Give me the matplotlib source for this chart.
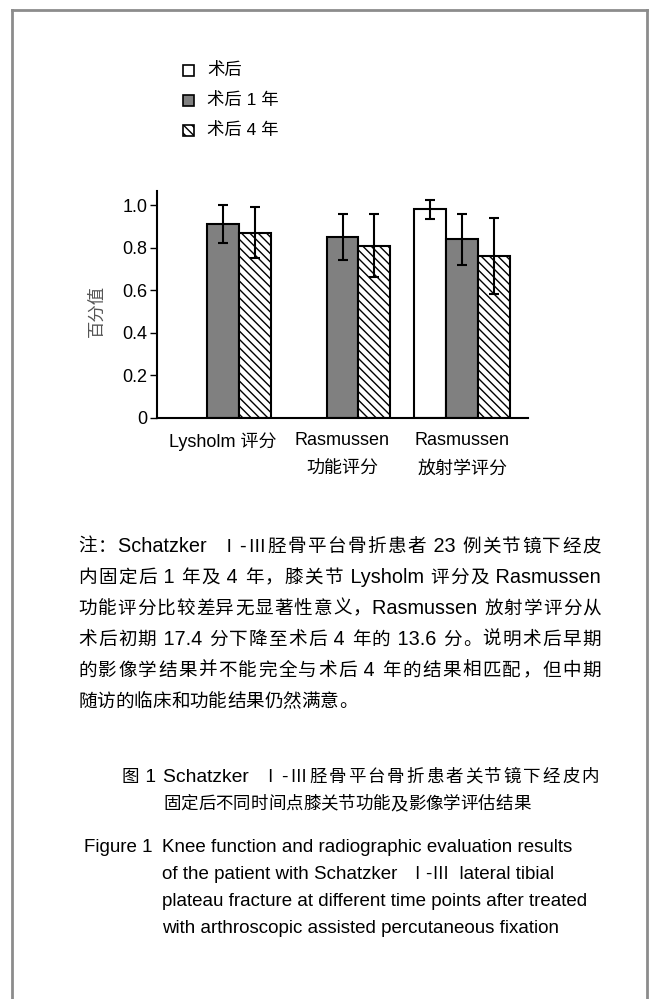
import re
import numpy as np
import matplotlib
matplotlib.use('Agg')
import matplotlib.pyplot as plt
from matplotlib.patches import Rectangle
from matplotlib.lines import Line2D

FAM = ['Liberation Sans', 'Noto Sans CJK SC']
plt.rcParams['font.family'] = FAM
plt.rcParams['hatch.linewidth'] = 1.0

W, H = 650, 999

# data
groups = ['Lysholm 评分', 'Rasmussen\n功能评分', 'Rasmussen\n放射学评分']
series = ['术后', '术后 1 年', '术后 4 年']
post_op = [np.nan, np.nan, 0.98]
year1 = [0.91, 0.85, 0.84]
year4 = [0.87, 0.81, 0.76]
post_op_err = [np.nan, np.nan, 0.045]
year1_err = [0.09, 0.11, 0.12]
year4_err = [0.12, 0.15, 0.18]
yticks = [0, 0.2, 0.4, 0.6, 0.8, 1.0]
ytick_labels = ['0', '0.2', '0.4', '0.6', '0.8', '1.0']

note_lines = [
    '注：Schatzker  Ⅰ-Ⅲ胫骨平台骨折患者 23 例关节镜下经皮',
    '内固定后 1 年及 4 年，膝关节 Lysholm 评分及 Rasmussen',
    '功能评分比较差异无显著性意义，Rasmussen 放射学评分从',
    '术后初期 17.4 分下降至术后 4 年的 13.6 分。说明术后早期',
    '的影像学结果并不能完全与术后 4 年的结果相匹配，但中期',
    '随访的临床和功能结果仍然满意。',
]
cap_cn = ['Schatzker  Ⅰ-Ⅲ胫骨平台骨折患者关节镜下经皮内',
          '固定后不同时间点膝关节功能及影像学评估结果']
cap_en = ['Knee function and radiographic evaluation results',
          'of the patient with Schatzker  Ⅰ-Ⅲ  lateral tibial',
          'plateau fracture at different time points after treated',
          'with arthroscopic assisted percutaneous fixation']

fig = plt.figure(figsize=(W / 100, H / 100), dpi=100)


def fx(px):
    return px / W


def fy(py):
    return 1 - py / H


# outer frame (open at the bottom)
for xs, ys in [((12, 12), (10, H)), ((12, 647), (10, 10)), ((647, 647), (10, H))]:
    fig.add_artist(Line2D([fx(x) for x in xs], [fy(y) for y in ys],
                          color='#8c8c8c', lw=2))

ax = fig.add_axes([fx(157), fy(418), fx(528) - fx(157), fy(191) - fy(418)])
x = np.arange(len(groups))
bw = 0.267
styles = [dict(color='white'), dict(color='#808080'), dict(color='white', hatch='\\\\\\\\')]
vals = [post_op, year1, year4]
errs = [post_op_err, year1_err, year4_err]
for i, (v, e, st) in enumerate(zip(vals, errs, styles)):
    ax.bar(x + (i - 1) * bw, v, bw, edgecolor='black', linewidth=1.5, label=series[i], **st)
    ax.errorbar(x + (i - 1) * bw, v, yerr=e, fmt='none', ecolor='black',
                elinewidth=1.5, capsize=3.3, capthick=1.5)

ax.set_xlim(-0.55, 2.55)
ax.set_ylim(0, 1.066)
ax.spines[['top', 'right']].set_visible(False)
ax.spines[['left', 'bottom']].set_linewidth(1.5)
ax.set_yticks(yticks)
ax.set_yticklabels(ytick_labels, fontsize=13)
ax.tick_params(axis='y', length=5, width=1, pad=2)
ax.set_xticks(x)
ax.set_xticklabels(groups, fontsize=13, linespacing=1.9)
ax.tick_params(axis='x', length=0, pad=10)

fig.text(fx(97), fy(311), '百分值', rotation=90, ha='center', va='center',
         fontsize=12.5, color='#555555')

# legend drawn by hand
for i, st in enumerate(styles):
    cy = 70 + 30 * i
    fig.add_artist(Rectangle((fx(183), fy(cy + 5.5)), fx(11), 11 / H,
                             facecolor=st['color'], hatch=st.get('hatch'),
                             edgecolor='black', linewidth=1.2, transform=fig.transFigure))
    fig.text(fx(207), fy(cy), series[i], ha='left', va='center', fontsize=12.5)

renderer = fig.canvas.get_renderer()


def width(s, size):
    t = fig.text(0, 0, s + '|', fontsize=size)
    ref = fig.text(0, 0, '|', fontsize=size)
    w = t.get_window_extent(renderer).width - ref.get_window_extent(renderer).width
    t.remove()
    ref.remove()
    return w


def line(s, x0, y, size, x1=None, latin=1.07):
    # latin runs a little larger than the CJK characters, as in the source
    tokens = re.findall(r'[ -~]+|.', s)
    sizes = [size * latin if re.match(r'[ -~]', t) else size for t in tokens]
    ws = [width(t, sz) for t, sz in zip(tokens, sizes)]
    extra = 0 if x1 is None else (x1 - x0 - sum(ws)) / (len(tokens) - 1)
    pos = x0
    for t, w, sz in zip(tokens, ws, sizes):
        fig.text(fx(pos), fy(y), t, ha='left', va='baseline', fontsize=sz)
        pos += w + extra


for i, s in enumerate(note_lines):
    last = i == len(note_lines) - 1
    line(s, 78, 552 + 31 * i, 13.4, None if last else 601)

line('图 1', 122, 782, 12.6, latin=1.1)
line(cap_cn[0], 163, 782, 12.6, 599, latin=1.1)
line(cap_cn[1], 163, 809, 12.6)

line('Figure 1', 84, 852, 12.6)
for i, s in enumerate(cap_en):
    line(s, 162, 852 + 27 * i, 12.6)

fig.savefig('out.png', dpi=100)
